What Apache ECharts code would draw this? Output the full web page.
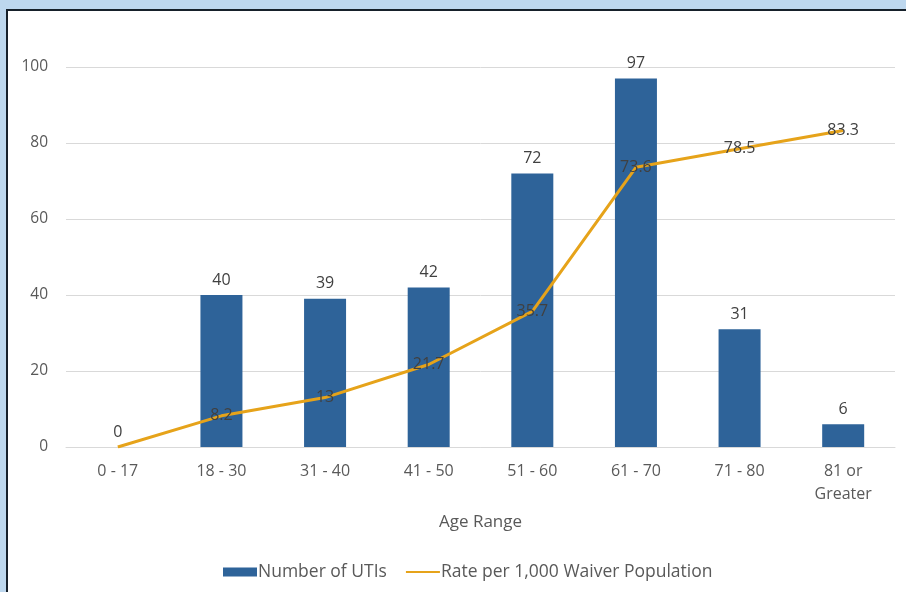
<!DOCTYPE html>
<html>
<head>
<meta charset="utf-8">
<script src="https://cdn.jsdelivr.net/npm/echarts@6/dist/echarts.min.js"></script>
<style>
  html, body { margin: 0; padding: 0; width: 906px; height: 592px; overflow: hidden; background: #bdd7ee; }
  #frame { position: absolute; left: 6px; top: 9px; width: 920px; height: 600px; background: #ffffff; border-left: 2px solid #16202a; border-top: 2px solid #16202a; }
  #chart { position: absolute; left: 0; top: 0; width: 906px; height: 592px; }
</style>
</head>
<body>
<div id="frame"></div>
<div id="chart"></div>
<script>
const categories = ['0 - 17', '18 - 30', '31 - 40', '41 - 50', '51 - 60', '61 - 70', '71 - 80', '81 or\nGreater'];
const utiCounts = [0, 40, 39, 42, 72, 97, 31, 6];
const ratePer1000 = [0, 8.2, 13, 21.7, 35.7, 73.6, 78.5, 83.3];
const yTicks = [0, 20, 40, 60, 80, 100];

const chart = echarts.init(document.getElementById('chart'), null, { renderer: 'canvas' });
const font = '"Open Sans", "Noto Sans", sans-serif';
chart.setOption({
  backgroundColor: 'transparent',
  animation: false,
  textStyle: { fontFamily: font },
  grid: { left: 66, right: 11, top: 67, bottom: 145, containLabel: false },
  legend: {
    top: 558,
    left: 218,
    itemWidth: 34,
    itemHeight: 9,
    itemGap: 18,
    textStyle: { color: '#595959', fontSize: 17.5, fontFamily: font, padding: [0, 0, 0, -4] },
    data: [
      { name: 'Number of UTIs', icon: 'rect' },
      { name: 'Rate per 1,000 Waiver Population', itemStyle: { opacity: 0 } }
    ]
  },
  xAxis: {
    type: 'category',
    data: categories,
    name: 'Age Range',
    nameLocation: 'middle',
    nameGap: 67,
    nameTextStyle: { color: '#595959', fontSize: 17, fontFamily: font },
    axisLine: { lineStyle: { color: '#d9d9d9', width: 1 } },
    axisTick: { show: false },
    axisLabel: { color: '#595959', fontSize: 16, margin: 13, lineHeight: 23, fontFamily: font }
  },
  yAxis: {
    type: 'value',
    min: yTicks[0],
    max: yTicks[yTicks.length - 1],
    interval: yTicks[1] - yTicks[0],
    axisLine: { show: false },
    axisTick: { show: false },
    splitLine: { lineStyle: { color: '#d9d9d9', width: 1 } },
    axisLabel: { color: '#595959', fontSize: 15.5, margin: 18, fontFamily: font }
  },
  series: [
    {
      name: 'Number of UTIs',
      type: 'bar',
      data: utiCounts,
      barWidth: 42,
      itemStyle: { color: '#2e6399' },
      label: { show: true, position: 'top', distance: 7, color: '#404040', fontSize: 16, fontFamily: font }
    },
    {
      name: 'Rate per 1,000 Waiver Population',
      type: 'line',
      data: ratePer1000,
      symbol: 'circle',
      symbolSize: 0,
      showSymbol: true,
      lineStyle: { color: '#e6a31a', width: 3 },
      itemStyle: { color: '#e6a31a' },
      label: {
        show: true,
        position: 'inside',
        color: '#404040',
        fontSize: 16,
        fontFamily: font,
        formatter: p => (p.value === 0 ? '' : String(p.value))
      }
    }
  ]
});
</script>
</body>
</html>
